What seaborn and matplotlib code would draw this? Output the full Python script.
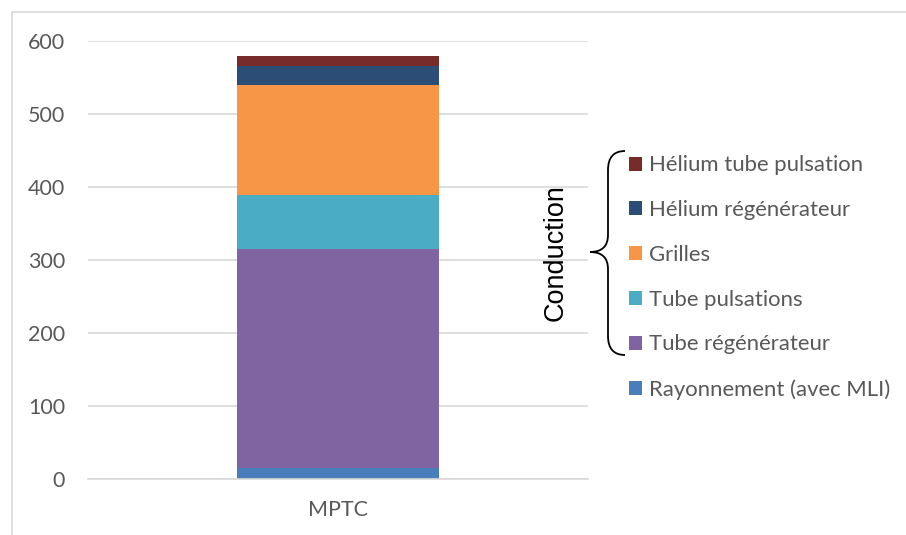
import matplotlib
matplotlib.use("Agg")
import matplotlib.pyplot as plt
import seaborn as sns
import pandas as pd
import numpy as np
from matplotlib.path import Path
from matplotlib.patches import PathPatch, Patch
from matplotlib.lines import Line2D

categories = ["MPTC"]
components = ["Rayonnement (avec MLI)", "Tube régénérateur", "Tube pulsations",
              "Grilles", "Hélium régénérateur", "Hélium tube pulsation"]
values = [15, 300, 74, 151, 26, 14]
colors = ["#4a7ebb", "#8064a2", "#4bacc6", "#f79646", "#2c4d75", "#772c2a"]
yticks = [0, 100, 200, 300, 400, 500, 600]
brace_label = "Conduction"

sns.set_theme(style="white")
plt.rcParams['font.family'] = ['Lato', 'DejaVu Sans']

W, H = 906, 535
FS = 15.5
fig = plt.figure(figsize=(W / 100, H / 100), dpi=100)
ax = fig.add_axes([88 / W, 1 - 479 / H, (588 - 88) / W, (479 - 41) / H])

df = pd.DataFrame({"cat": categories * len(components),
                   "comp": components, "val": values})
bottoms = np.concatenate([[0], np.cumsum(values)[:-1]])
for i, comp in enumerate(components):
    sub = df[df["comp"] == comp]
    sns.barplot(data=sub, x="cat", y="val", color=colors[i], width=0.405,
                bottom=bottoms[i], ax=ax, saturation=1, linewidth=0,
                errorbar=None)

ax.set_ylim(0, 600)
ax.set_yticks(yticks)
ax.set_xlim(-0.5, 0.5)
ax.grid(axis="y", color="#d9d9d9", linewidth=1.2)
ax.set_axisbelow(True)
for s in ["top", "right", "left"]:
    ax.spines[s].set_visible(False)
ax.spines["bottom"].set_color("#d9d9d9")
ax.spines["bottom"].set_linewidth(1.2)
ax.set_xlabel("")
ax.set_ylabel("")
ax.tick_params(axis="y", length=0, pad=16.5, labelsize=FS, labelcolor="#595959")
ax.tick_params(axis="x", length=0, pad=15, labelsize=FS, labelcolor="#595959")

# chart border (top & left visible)
fig.add_artist(Line2D([12 / W, 12 / W], [0, 1 - 12 / H], transform=fig.transFigure,
                      color="#d9d9d9", linewidth=1.2))
fig.add_artist(Line2D([12 / W, 1], [1 - 12 / H, 1 - 12 / H], transform=fig.transFigure,
                      color="#d9d9d9", linewidth=1.2))

# legend
handles = [Patch(facecolor=colors[i], edgecolor="none") for i in range(len(components))][::-1]
labels = components[::-1]
leg = fig.legend(handles, labels, loc="upper left",
                 bbox_to_anchor=(629 / W, 1 - 155.5 / H), frameon=False,
                 fontsize=15.9, labelcolor="#595959", handlelength=0.6,
                 handleheight=0.6, handletextpad=0.3, labelspacing=1.12,
                 borderaxespad=0, borderpad=0)

# brace
def P(x, y):
    return (x / W, 1 - y / H)

verts = [P(625, 151), P(608, 151), P(608, 170), P(608, 235),
         P(608, 252), P(590, 252), P(608, 252), P(608, 269),
         P(608, 336), P(608, 355), P(625, 355)]
codes = [Path.MOVETO, Path.CURVE3, Path.CURVE3, Path.LINETO,
         Path.CURVE3, Path.CURVE3, Path.CURVE3, Path.CURVE3,
         Path.LINETO, Path.CURVE3, Path.CURVE3]
fig.add_artist(PathPatch(Path(verts, codes), transform=fig.transFigure,
                         facecolor="none", edgecolor="black", linewidth=1.3))
fig.text(556 / W, 1 - 253 / H, brace_label, rotation=90, ha="center", va="center",
         fontsize=19.5, color="black",
         family=["Liberation Sans Narrow", "Liberation Sans", "DejaVu Sans"])

fig.savefig("out.png", dpi=100)
